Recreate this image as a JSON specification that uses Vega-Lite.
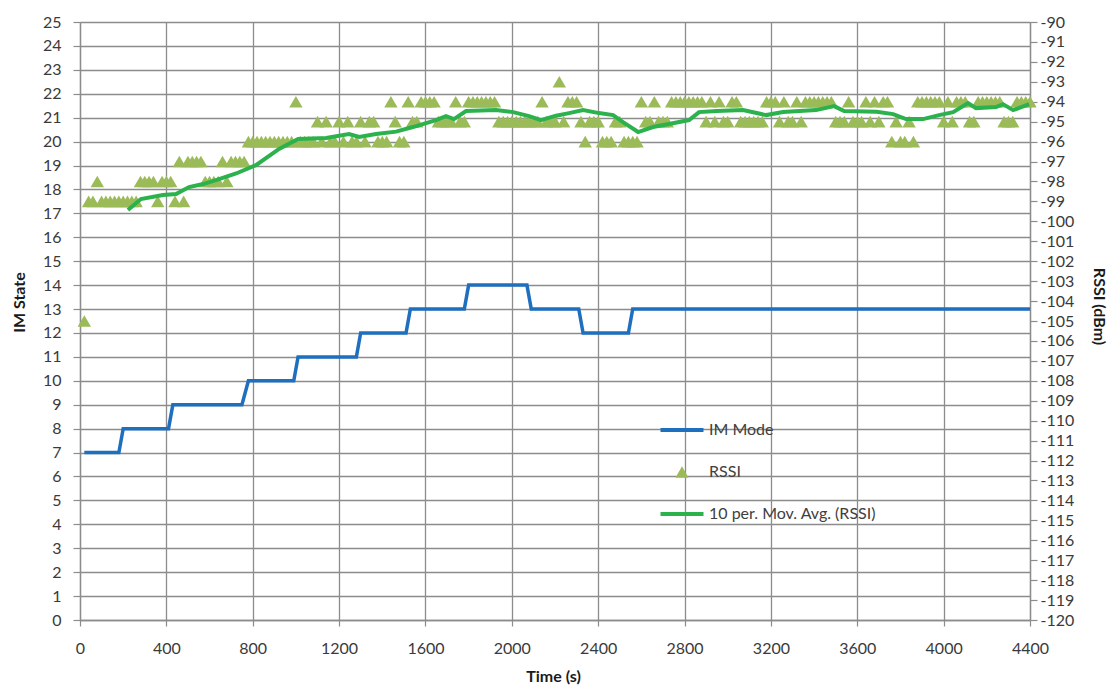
{
  "$schema": "https://vega.github.io/schema/vega-lite/v6.json",
  "width": 950,
  "height": 598,
  "autosize": "none",
  "padding": {"left": 80, "top": 22, "right": 81, "bottom": 68},
  "background": "white",
  "config": {
    "font": "Lato",
    "view": {"stroke": null},
    "axis": {
      "labelFont": "Lato",
      "labelFontSize": 16,
      "labelColor": "#3a3a3a",
      "titleFont": "Lato",
      "titleFontSize": 16,
      "titleFontWeight": "bold",
      "titleColor": "#1a1a1a",
      "domainColor": "#8c8c8c",
      "tickColor": "#8c8c8c",
      "gridColor": "#8c8c8c",
      "gridWidth": 1.3,
      "domainWidth": 1.3,
      "tickWidth": 1.2,
      "labelOverlap": false
    }
  },
  "datasets": {
    "im": [
      {"t": 20, "im": 7}, {"t": 180, "im": 7}, {"t": 200, "im": 8}, {"t": 410, "im": 8},
      {"t": 430, "im": 9}, {"t": 750, "im": 9}, {"t": 780, "im": 10}, {"t": 990, "im": 10},
      {"t": 1010, "im": 11}, {"t": 1280, "im": 11}, {"t": 1300, "im": 12}, {"t": 1510, "im": 12},
      {"t": 1530, "im": 13}, {"t": 1780, "im": 13}, {"t": 1800, "im": 14}, {"t": 2070, "im": 14},
      {"t": 2090, "im": 13}, {"t": 2310, "im": 13}, {"t": 2330, "im": 12}, {"t": 2540, "im": 12},
      {"t": 2560, "im": 13}, {"t": 4400, "im": 13}
    ],
    "rssi": [
      {"t": 20, "rssi": -105}, {"t": 40, "rssi": -99}, {"t": 60, "rssi": -99}, {"t": 80, "rssi": -98},
      {"t": 100, "rssi": -99}, {"t": 120, "rssi": -99}, {"t": 140, "rssi": -99}, {"t": 160, "rssi": -99},
      {"t": 180, "rssi": -99}, {"t": 200, "rssi": -99}, {"t": 220, "rssi": -99}, {"t": 240, "rssi": -99},
      {"t": 260, "rssi": -99}, {"t": 280, "rssi": -98}, {"t": 300, "rssi": -98}, {"t": 320, "rssi": -98},
      {"t": 340, "rssi": -98}, {"t": 360, "rssi": -99}, {"t": 380, "rssi": -98}, {"t": 400, "rssi": -98},
      {"t": 420, "rssi": -98}, {"t": 440, "rssi": -99}, {"t": 460, "rssi": -97}, {"t": 480, "rssi": -99},
      {"t": 500, "rssi": -97}, {"t": 520, "rssi": -97}, {"t": 540, "rssi": -97}, {"t": 560, "rssi": -97},
      {"t": 580, "rssi": -98}, {"t": 600, "rssi": -98}, {"t": 620, "rssi": -98}, {"t": 640, "rssi": -98},
      {"t": 660, "rssi": -97}, {"t": 680, "rssi": -98}, {"t": 700, "rssi": -97}, {"t": 720, "rssi": -97},
      {"t": 740, "rssi": -97}, {"t": 760, "rssi": -97}, {"t": 780, "rssi": -96}, {"t": 800, "rssi": -96},
      {"t": 820, "rssi": -96}, {"t": 840, "rssi": -96}, {"t": 860, "rssi": -96}, {"t": 880, "rssi": -96},
      {"t": 900, "rssi": -96}, {"t": 920, "rssi": -96}, {"t": 940, "rssi": -96}, {"t": 960, "rssi": -96},
      {"t": 980, "rssi": -96}, {"t": 1000, "rssi": -94}, {"t": 1020, "rssi": -96}, {"t": 1040, "rssi": -96},
      {"t": 1060, "rssi": -96}, {"t": 1080, "rssi": -96}, {"t": 1100, "rssi": -95}, {"t": 1120, "rssi": -96},
      {"t": 1140, "rssi": -95}, {"t": 1160, "rssi": -96}, {"t": 1180, "rssi": -96}, {"t": 1200, "rssi": -95},
      {"t": 1220, "rssi": -96}, {"t": 1240, "rssi": -95}, {"t": 1260, "rssi": -96}, {"t": 1280, "rssi": -96},
      {"t": 1300, "rssi": -95}, {"t": 1320, "rssi": -96}, {"t": 1340, "rssi": -95}, {"t": 1360, "rssi": -95},
      {"t": 1380, "rssi": -96}, {"t": 1400, "rssi": -96}, {"t": 1420, "rssi": -96}, {"t": 1440, "rssi": -94},
      {"t": 1460, "rssi": -95}, {"t": 1480, "rssi": -96}, {"t": 1500, "rssi": -96}, {"t": 1520, "rssi": -94},
      {"t": 1540, "rssi": -95}, {"t": 1560, "rssi": -95}, {"t": 1580, "rssi": -94}, {"t": 1600, "rssi": -94},
      {"t": 1620, "rssi": -94}, {"t": 1640, "rssi": -94}, {"t": 1660, "rssi": -95}, {"t": 1680, "rssi": -95},
      {"t": 1700, "rssi": -95}, {"t": 1720, "rssi": -95}, {"t": 1740, "rssi": -94}, {"t": 1760, "rssi": -95},
      {"t": 1780, "rssi": -95}, {"t": 1800, "rssi": -94}, {"t": 1820, "rssi": -94}, {"t": 1840, "rssi": -94},
      {"t": 1860, "rssi": -94}, {"t": 1880, "rssi": -94}, {"t": 1900, "rssi": -94}, {"t": 1920, "rssi": -94},
      {"t": 1940, "rssi": -95}, {"t": 1960, "rssi": -95}, {"t": 1980, "rssi": -95}, {"t": 2000, "rssi": -95},
      {"t": 2020, "rssi": -95}, {"t": 2040, "rssi": -95}, {"t": 2060, "rssi": -95}, {"t": 2080, "rssi": -95},
      {"t": 2100, "rssi": -95}, {"t": 2120, "rssi": -95}, {"t": 2140, "rssi": -94}, {"t": 2160, "rssi": -95},
      {"t": 2180, "rssi": -95}, {"t": 2200, "rssi": -95}, {"t": 2220, "rssi": -93}, {"t": 2240, "rssi": -95},
      {"t": 2260, "rssi": -94}, {"t": 2280, "rssi": -94}, {"t": 2300, "rssi": -94}, {"t": 2320, "rssi": -95},
      {"t": 2340, "rssi": -96}, {"t": 2360, "rssi": -95}, {"t": 2380, "rssi": -95}, {"t": 2400, "rssi": -95},
      {"t": 2420, "rssi": -96}, {"t": 2440, "rssi": -96}, {"t": 2460, "rssi": -96}, {"t": 2480, "rssi": -95},
      {"t": 2500, "rssi": -95}, {"t": 2520, "rssi": -96}, {"t": 2540, "rssi": -96}, {"t": 2560, "rssi": -96},
      {"t": 2580, "rssi": -96}, {"t": 2600, "rssi": -94}, {"t": 2620, "rssi": -95}, {"t": 2640, "rssi": -95},
      {"t": 2660, "rssi": -94}, {"t": 2680, "rssi": -95}, {"t": 2700, "rssi": -95}, {"t": 2720, "rssi": -95},
      {"t": 2740, "rssi": -94}, {"t": 2760, "rssi": -94}, {"t": 2780, "rssi": -94}, {"t": 2800, "rssi": -94},
      {"t": 2820, "rssi": -94}, {"t": 2840, "rssi": -94}, {"t": 2860, "rssi": -94}, {"t": 2880, "rssi": -94},
      {"t": 2900, "rssi": -95}, {"t": 2920, "rssi": -94}, {"t": 2940, "rssi": -95}, {"t": 2960, "rssi": -94},
      {"t": 2980, "rssi": -95}, {"t": 3000, "rssi": -95}, {"t": 3020, "rssi": -94}, {"t": 3040, "rssi": -94},
      {"t": 3060, "rssi": -95}, {"t": 3080, "rssi": -95}, {"t": 3100, "rssi": -95}, {"t": 3120, "rssi": -95},
      {"t": 3140, "rssi": -95}, {"t": 3160, "rssi": -95}, {"t": 3180, "rssi": -94}, {"t": 3200, "rssi": -94},
      {"t": 3220, "rssi": -94}, {"t": 3240, "rssi": -95}, {"t": 3260, "rssi": -94}, {"t": 3280, "rssi": -95},
      {"t": 3300, "rssi": -95}, {"t": 3320, "rssi": -94}, {"t": 3340, "rssi": -95}, {"t": 3360, "rssi": -94},
      {"t": 3380, "rssi": -94}, {"t": 3400, "rssi": -94}, {"t": 3420, "rssi": -94}, {"t": 3440, "rssi": -94},
      {"t": 3460, "rssi": -94}, {"t": 3480, "rssi": -94}, {"t": 3500, "rssi": -95}, {"t": 3520, "rssi": -95},
      {"t": 3540, "rssi": -95}, {"t": 3560, "rssi": -94}, {"t": 3580, "rssi": -95}, {"t": 3600, "rssi": -95},
      {"t": 3620, "rssi": -95}, {"t": 3640, "rssi": -94}, {"t": 3660, "rssi": -95}, {"t": 3680, "rssi": -94},
      {"t": 3700, "rssi": -95}, {"t": 3720, "rssi": -94}, {"t": 3740, "rssi": -94}, {"t": 3760, "rssi": -96},
      {"t": 3780, "rssi": -95}, {"t": 3800, "rssi": -96}, {"t": 3820, "rssi": -96}, {"t": 3840, "rssi": -95},
      {"t": 3860, "rssi": -96}, {"t": 3880, "rssi": -94}, {"t": 3900, "rssi": -94}, {"t": 3920, "rssi": -94},
      {"t": 3940, "rssi": -94}, {"t": 3960, "rssi": -94}, {"t": 3980, "rssi": -94}, {"t": 4000, "rssi": -95},
      {"t": 4020, "rssi": -94}, {"t": 4040, "rssi": -95}, {"t": 4060, "rssi": -94}, {"t": 4080, "rssi": -94},
      {"t": 4100, "rssi": -94}, {"t": 4120, "rssi": -95}, {"t": 4140, "rssi": -95}, {"t": 4160, "rssi": -94},
      {"t": 4180, "rssi": -94}, {"t": 4200, "rssi": -94}, {"t": 4220, "rssi": -94}, {"t": 4240, "rssi": -94},
      {"t": 4260, "rssi": -94}, {"t": 4280, "rssi": -95}, {"t": 4300, "rssi": -95}, {"t": 4320, "rssi": -95},
      {"t": 4340, "rssi": -94}, {"t": 4360, "rssi": -94}, {"t": 4380, "rssi": -94}, {"t": 4400, "rssi": -94}
    ],
    "ma": [
      {"t": 222, "avg": -99.43}, {"t": 282, "avg": -98.88}, {"t": 384, "avg": -98.68}, {"t": 445, "avg": -98.63},
      {"t": 505, "avg": -98.28}, {"t": 570, "avg": -98.13}, {"t": 630, "avg": -97.93}, {"t": 723, "avg": -97.6},
      {"t": 815, "avg": -97.18}, {"t": 922, "avg": -96.37}, {"t": 1010, "avg": -95.87}, {"t": 1140, "avg": -95.82},
      {"t": 1246, "avg": -95.62}, {"t": 1293, "avg": -95.77}, {"t": 1371, "avg": -95.62}, {"t": 1464, "avg": -95.5},
      {"t": 1542, "avg": -95.27}, {"t": 1649, "avg": -94.92}, {"t": 1695, "avg": -94.72}, {"t": 1732, "avg": -94.87},
      {"t": 1788, "avg": -94.47}, {"t": 1927, "avg": -94.42}, {"t": 2006, "avg": -94.52}, {"t": 2080, "avg": -94.72},
      {"t": 2135, "avg": -94.92}, {"t": 2205, "avg": -94.7}, {"t": 2265, "avg": -94.57}, {"t": 2330, "avg": -94.42},
      {"t": 2404, "avg": -94.57}, {"t": 2469, "avg": -94.67}, {"t": 2515, "avg": -95.02}, {"t": 2585, "avg": -95.52},
      {"t": 2654, "avg": -95.27}, {"t": 2728, "avg": -95.12}, {"t": 2821, "avg": -94.92}, {"t": 2867, "avg": -94.52},
      {"t": 2950, "avg": -94.47}, {"t": 3071, "avg": -94.42}, {"t": 3178, "avg": -94.67}, {"t": 3256, "avg": -94.52},
      {"t": 3409, "avg": -94.42}, {"t": 3493, "avg": -94.22}, {"t": 3539, "avg": -94.47}, {"t": 3690, "avg": -94.5},
      {"t": 3766, "avg": -94.62}, {"t": 3826, "avg": -94.87}, {"t": 3905, "avg": -94.87}, {"t": 3979, "avg": -94.67},
      {"t": 4044, "avg": -94.52}, {"t": 4113, "avg": -94.07}, {"t": 4150, "avg": -94.32}, {"t": 4243, "avg": -94.27},
      {"t": 4275, "avg": -94.12}, {"t": 4322, "avg": -94.42}, {"t": 4396, "avg": -94.12}
    ]
  },
  "encoding": {
    "x": {
      "field": "t",
      "type": "quantitative",
      "scale": {"domain": [0, 4400], "nice": false, "zero": false},
      "axis": {
        "title": "Time (s)",
        "values": [0, 400, 800, 1200, 1600, 2000, 2400, 2800, 3200, 3600, 4000, 4400],
        "format": "d",
        "grid": true,
        "tickSize": 6,
        "labelPadding": 14,
        "labelFlush": false,
        "titleX": 473,
        "titleY": 56,
        "titleBaseline": "middle"
      }
    }
  },
  "layer": [
    {
      "data": {"name": "im"},
      "mark": {"type": "line", "strokeWidth": 3.5, "interpolate": "linear"},
      "encoding": {
        "y": {
          "field": "im",
          "type": "quantitative",
          "scale": {"domain": [0, 25], "nice": false, "zero": false},
          "axis": {
            "title": "IM State",
            "orient": "left",
            "values": [0, 1, 2, 3, 4, 5, 6, 7, 8, 9, 10, 11, 12, 13, 14, 15, 16, 17, 18, 19, 20, 21, 22, 23, 24, 25],
            "grid": true,
            "tickSize": 7,
            "labelPadding": 12,
            "labelFlush": false,
            "titleAngle": -90,
            "titleBaseline": "alphabetic",
            "titleX": -56,
            "titleY": 280
          }
        },
        "color": {
          "datum": "IM Mode",
          "scale": {
            "domain": ["IM Mode", "RSSI", "10 per. Mov. Avg. (RSSI)"],
            "range": ["#1f6fbf", "#9bbb59", "#2bb24c"]
          },
          "legend": {
            "title": null,
            "orient": "none",
            "legendX": 594,
            "legendY": 400,
            "direction": "vertical",
            "symbolType": "stroke",
            "symbolSize": 1849,
            "symbolStrokeWidth": 4,
            "symbolOpacity": 1,
            "rowPadding": 26,
            "labelFont": "Lato",
            "labelFontSize": 16,
            "labelColor": "#404040",
            "labelOffset": 19,
            "labelLimit": 400,
            "encode": {
              "symbols": {
                "update": {
                  "shape": {"signal": "datum.value === 'RSSI' ? 'triangle-up' : 'stroke'"},
                  "size": {"signal": "datum.value === 'RSSI' ? 170 : 1849"},
                  "strokeWidth": {"signal": "datum.value === 'RSSI' ? 0 : 4"},
                  "fill": {"signal": "datum.value === 'RSSI' ? '#9bbb59' : 'transparent'"},
                  "stroke": {"signal": "datum.value === 'IM Mode' ? '#1f6fbf' : datum.value === 'RSSI' ? '#9bbb59' : '#2bb24c'"},
                  "opacity": {"value": 1}
                }
              }
            }
          }
        }
      }
    },
    {
      "layer": [
        {
          "data": {"name": "rssi"},
          "mark": {"type": "point", "shape": "triangle-up", "filled": true, "opacity": 1, "size": 180},
          "encoding": {
            "y": {
              "field": "rssi",
              "type": "quantitative",
              "scale": {"domain": [-120, -90], "nice": false, "zero": false},
              "axis": {
                "title": "RSSI (dBm)",
                "orient": "right",
                "values": [-120, -119, -118, -117, -116, -115, -114, -113, -112, -111, -110, -109, -108, -107, -106, -105, -104, -103, -102, -101, -100, -99, -98, -97, -96, -95, -94, -93, -92, -91, -90],
                "labelExpr": "'' + datum.value",
                "grid": false,
                "tickSize": 7,
                "labelPadding": 3,
                "labelFlush": false,
                "titleAngle": 90,
                "titleBaseline": "alphabetic",
                "titleX": 63,
                "titleY": 284
              }
            },
            "color": {"datum": "RSSI"}
          }
        },
        {
          "data": {"name": "ma"},
          "mark": {"type": "line", "strokeWidth": 4, "interpolate": "linear"},
          "encoding": {
            "y": {
              "field": "avg",
              "type": "quantitative",
              "axis": {
                "title": "RSSI (dBm)",
                "orient": "right",
                "values": [-120, -119, -118, -117, -116, -115, -114, -113, -112, -111, -110, -109, -108, -107, -106, -105, -104, -103, -102, -101, -100, -99, -98, -97, -96, -95, -94, -93, -92, -91, -90],
                "labelExpr": "'' + datum.value",
                "grid": false,
                "tickSize": 7,
                "labelPadding": 3,
                "labelFlush": false,
                "titleAngle": 90,
                "titleBaseline": "alphabetic",
                "titleX": 63,
                "titleY": 284
              }
            },
            "color": {"datum": "10 per. Mov. Avg. (RSSI)"}
          }
        }
      ]
    }
  ],
  "resolve": {"scale": {"y": "independent"}}
}
